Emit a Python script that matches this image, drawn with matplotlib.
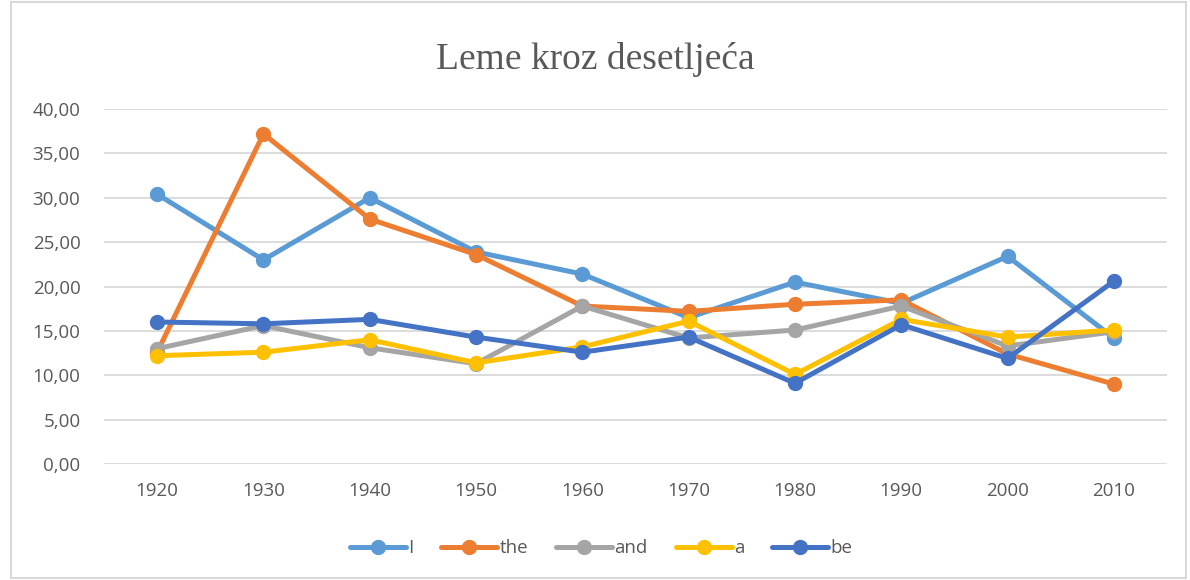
import matplotlib.pyplot as plt
from matplotlib.patches import Rectangle

years = ['1920', '1930', '1940', '1950', '1960', '1970', '1980', '1990', '2000', '2010']
s_I = [30.4, 23.0, 30.0, 23.9, 21.4, 16.5, 20.5, 18.1, 23.4, 14.2]
s_the = [12.6, 37.2, 27.6, 23.6, 17.8, 17.2, 18.0, 18.5, 12.4, 9.0]
s_and = [13.0, 15.6, 13.1, 11.3, 17.8, 14.2, 15.1, 17.8, 13.3, 14.9]
s_a = [12.2, 12.6, 14.0, 11.4, 13.2, 16.1, 10.1, 16.3, 14.3, 15.1]
s_be = [16.0, 15.8, 16.3, 14.3, 12.6, 14.3, 9.1, 15.7, 11.9, 20.6]

names = ['I', 'the', 'and', 'a', 'be']
series = [s_I, s_the, s_and, s_a, s_be]
colors = ['#5B9BD5', '#ED7D31', '#A5A5A5', '#FFC000', '#4472C4']

txt = '#595959'
fig = plt.figure(figsize=(11.9, 5.8), dpi=100)
ax = fig.add_axes([0.0874, 0.2, 0.8933, 0.612])

x = range(len(years))
for name, vals, c in zip(names, series, colors):
    ax.plot(x, vals, color=c, lw=3.6, marker='o', ms=10, label=name, solid_capstyle='round')

ax.set_xlim(-0.5, 9.5)
ax.set_ylim(0, 40)
ax.set_yticks(range(0, 41, 5))
ax.set_yticklabels([f'{v},00' for v in range(0, 41, 5)])
ax.set_xticks(list(x))
ax.set_xticklabels(years)
ax.tick_params(length=0, labelsize=13.5, labelcolor=txt, pad=13)
ax.tick_params(axis='y', pad=17)
ax.grid(axis='y', color='#D9D9D9', lw=1.3)
ax.set_axisbelow(True)
for s in ax.spines.values():
    s.set_visible(False)
for lab in ax.get_xticklabels() + ax.get_yticklabels():
    lab.set_family('Open Sans')

fig.text(0.5, 0.898, 'Leme kroz desetljeća', ha='center', va='center',
         fontsize=27, color=txt, family='Liberation Serif')

fig.legend(loc='center', bbox_to_anchor=(0.505, 0.055), ncol=5, frameon=False,
           prop={'family': 'Open Sans', 'size': 13.5}, labelcolor=txt,
           handlelength=3.0, handletextpad=0.1, columnspacing=1.5)

fig.patches.append(Rectangle((0.009, 0.003), 0.988, 0.994, transform=fig.transFigure,
                             fill=False, edgecolor='#D9D9D9', lw=1.5))
fig.savefig('out.png', dpi=100)
